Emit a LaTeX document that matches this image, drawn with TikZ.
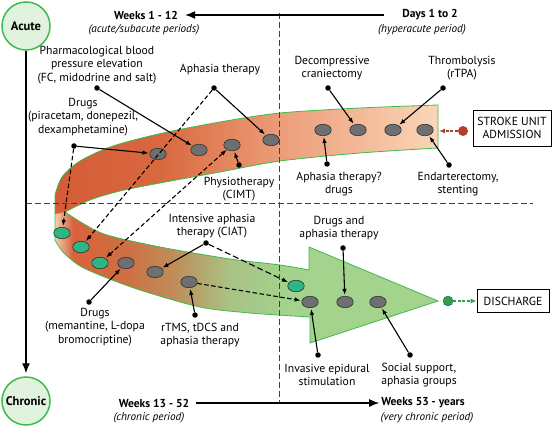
\documentclass[tikz,border=0pt]{standalone}
\usepackage{fontspec}
\setmainfont{PT Sans}
\usetikzlibrary{shapes.geometric,arrows.meta}

\definecolor{ubA}{HTML}{D45C37}
\definecolor{ubB}{HTML}{D9683F}
\definecolor{ubC}{HTML}{EC9D79}
\definecolor{ubD}{HTML}{FAD6B8}
\definecolor{lbA}{HTML}{F7CDAE}
\definecolor{lbB}{HTML}{D8623B}
\definecolor{lbC}{HTML}{CF6E42}
\definecolor{lbD}{HTML}{BF8E5A}
\definecolor{lbE}{HTML}{A9C285}
\definecolor{lbF}{HTML}{A3D38D}
\definecolor{arrowgreen}{HTML}{A3D38D}
\definecolor{rimgreen}{HTML}{3DBB4E}
\definecolor{spotgray}{HTML}{6E6F71}
\definecolor{spotteal}{HTML}{2DB683}
\definecolor{phasefill}{HTML}{E1F3DF}
\definecolor{admitred}{HTML}{B3402C}
\definecolor{dischgreen}{HTML}{2F9E4F}

\pgfdeclarehorizontalshading{upperband}{100bp}{color(0bp)=(ubA); color(25bp)=(ubA); color(38.7bp)=(ubB); color(54.4bp)=(ubC); color(75bp)=(ubD); color(100bp)=(ubD)}
\pgfdeclarehorizontalshading{lowerband}{100bp}{color(0bp)=(lbA); color(25bp)=(lbA); color(28.5bp)=(lbB); color(38.5bp)=(lbC); color(48.5bp)=(lbD); color(59bp)=(lbE); color(70bp)=(lbF); color(100bp)=(lbF)}

\tikzset{
  txtlbl/.style={font=\fontsize{11.7}{13.6}\selectfont, align=center, inner sep=0pt},
  period/.style={font=\bfseries\fontsize{11.5}{13}\selectfont, inner sep=0pt},
  subperiod/.style={font=\itshape\fontsize{11.2}{13}\selectfont, inner sep=0pt},
  gspot/.style={ellipse, draw=black!80, line width=0.6pt, fill=spotgray, minimum width=16.5pt, minimum height=11.5pt, inner sep=0pt},
  tspot/.style={gspot, fill=spotteal},
  blackdot/.style={circle, fill=black, inner sep=0pt, minimum size=5.5pt},
  solidarr/.style={-{Latex[length=6pt,width=4.5pt]}, line width=1.1pt, shorten >=1pt},
  dasharr/.style={solidarr, dash pattern=on 4.5pt off 2.5pt},
  timearr/.style={-{Latex[length=10pt,width=8pt]}, line width=1.3pt},
  guide/.style={dash pattern=on 6pt off 3pt, line width=0.8pt, black!75},
  phase/.style={circle, draw=rimgreen, line width=1.5pt, fill=phasefill, minimum size=48pt, inner sep=0pt, font=\bfseries\fontsize{12.5}{13}\selectfont},
  boxlbl/.style={draw, line width=0.8pt, align=center, inner sep=0pt, font=\fontsize{11.7}{13.6}\selectfont}
}

\begin{document}
\begin{tikzpicture}[x=1pt,y=-1pt]
  \useasboundingbox (0,0) rectangle (553,427);

  % ribbon
  \fill[arrowgreen] (300,270) -- (309,270) -- (309,247) -- (438,301) -- (310,343) -- (310,317) -- (300,317) -- cycle;
  \shade[shading=lowerband] (55,200) -- (55,240)
    -- plot[smooth] coordinates {(55,240) (63,252) (80,266) (107,278) (143,291) (200,307) (250,313) (311,317)}
    -- (311,270)
    -- plot[smooth] coordinates {(311,270) (280,265) (230,259) (160,247) (107,235) (84,224) (65,212)} -- cycle;
  \shade[shading=upperband]
    plot[smooth] coordinates {(438,105) (360,108) (280,113) (220,122) (163,133) (113,146) (80,161) (62,177) (55,195)}
    -- (55,214)
    -- plot[smooth] coordinates {(65,212) (90,200) (120,191) (160,183) (220,172) (280,161) (360,153) (438,148)} -- cycle;
  \draw[rimgreen, line width=0.8pt] (438,148)
    -- plot[smooth] coordinates {(438,105) (360,108) (280,113) (220,122) (163,133) (113,146) (80,161) (62,177) (55,195)}
    -- (55,240)
    -- plot[smooth] coordinates {(55,240) (63,252) (80,266) (107,278) (143,291) (200,307) (250,313) (310,317)}
    -- (310,343) -- (438,301) -- (309,247) -- (309,270)
    -- plot[smooth] coordinates {(309,270) (280,265) (230,259) (160,247) (107,235) (84,224) (65,212)}
    -- plot[smooth] coordinates {(65,212) (90,200) (120,191) (160,183) (220,172) (280,161) (360,153) (438,148)};

  % time axes
  \draw[guide] (279,13) -- (279,403);
  \draw[guide] (26,203) -- (533,203);

  \node[phase] (acute) at (26,26) {Acute};
  \node[phase] (chronic) at (26,401) {Chronic};
  \draw[timearr, shorten >=3pt] (acute) -- (chronic);

  \node[period] (wk1) at (146,15) {Weeks 1 - 12};
  \node[subperiod] at (144,30) {(acute/subacute periods)};
  \node[period] (day1) at (430,15) {Days 1 to 2};
  \node[subperiod] at (422,30) {(hyperacute period)};
  \draw[timearr, shorten <=18pt, shorten >=7pt] (day1.west) -- (wk1.east);

  \node[period] (wk13) at (154,403) {Weeks 13 - 52};
  \node[subperiod] at (149,418) {(chronic period)};
  \node[period] (wk53) at (423,403) {Weeks 53 - years};
  \node[subperiod] at (427,418) {(very chronic period)};
  \draw[timearr, shorten <=7pt, shorten >=2pt] (wk13.east) -- (wk53.west);

  % spots on the ribbon
  \node[gspot] (u1) at (158,154) {};
  \node[gspot] (u2) at (199,150) {};
  \node[gspot] (u3) at (232,145) {};
  \node[gspot] (u4) at (271,140) {};
  \node[gspot] (u5) at (323,130) {};
  \node[gspot] (u6) at (358,130) {};
  \node[gspot] (u7) at (393,130) {};
  \node[gspot] (u8) at (425,130) {};
  \node[tspot] (t1) at (62,233) {};
  \node[tspot] (t2) at (81,247) {};
  \node[tspot] (t3) at (100,263) {};
  \node[gspot] (l1) at (126,263) {};
  \node[gspot] (l2) at (155,272) {};
  \node[gspot] (l3) at (189,282) {};
  \node[tspot] (t4) at (296,286) {};
  \node[gspot] (l4) at (310,302) {};
  \node[gspot] (l5) at (345,302) {};
  \node[gspot] (l6) at (378,302) {};

  % labels
  \node[txtlbl] at (97,65) {Pharmacological blood\\pressure elevation\\(FC, midodrine and salt)};
  \node[blackdot] (dpharm) at (97,88) {};
  \node[txtlbl] at (220,70) {Aphasia therapy};
  \node[blackdot] (daph) at (214,88) {};
  \node[txtlbl] at (83,117) {Drugs\\(piracetam, donepezil,\\dexamphetamine)};
  \node[blackdot] (ddrugA) at (74,146) {};
  \node[txtlbl] at (239,189) {Physiotherapy\\(CIMT)};
  \node[blackdot] (dcimt) at (239,165) {};
  \node[txtlbl] at (332,68) {Decompressive\\craniectomy};
  \node[blackdot] (ddecomp) at (328,88) {};
  \node[txtlbl] at (462,68) {Thrombolysis\\(rTPA)};
  \node[blackdot] (dthromb) at (443,88) {};
  \node[txtlbl] at (339,184) {Aphasia therapy?\\drugs};
  \node[blackdot] (daphq) at (327,164) {};
  \node[txtlbl] at (458,184) {Endarterectomy,\\stenting};
  \node[blackdot] (dendart) at (449,165) {};
  \node[txtlbl] at (212,226) {Intensive aphasia\\therapy (CIAT)};
  \node[blackdot] (dciat) at (206,243) {};
  \node[txtlbl] at (95,327) {Drugs\\(memantine, L-dopa\\bromocriptine)};
  \node[blackdot] (ddrugB) at (89,302) {};
  \node[txtlbl] at (200,335) {rTMS, tDCS and\\aphasia therapy};
  \node[blackdot] (drtms) at (195,315) {};
  \node[txtlbl] at (339,228) {Drugs and\\aphasia therapy};
  \node[blackdot] (ddrugaph) at (343,248) {};
  \node[txtlbl] at (327,375) {Invasive epidural\\stimulation};
  \node[blackdot] (dinv) at (318,355) {};
  \node[txtlbl] at (419,375) {Social support,\\aphasia groups};
  \node[blackdot] (dsocial) at (410,355) {};

  \draw[solidarr] (dpharm) -- (u2);
  \draw[solidarr] (daph) -- (u4);
  \draw[dasharr] (daph) -- (t2);
  \draw[solidarr] (ddrugA) -- (u1);
  \draw[dasharr] (ddrugA) -- (t1);
  \draw[solidarr] (dcimt) -- (u3);
  \draw[dasharr, {Latex[length=6pt,width=4.5pt]}-{Latex[length=6pt,width=4.5pt]}] (u3) -- (t3);
  \draw[solidarr] (ddecomp) -- (u6);
  \draw[solidarr] (dthromb) -- (u7);
  \draw[solidarr] (daphq) -- (u5);
  \draw[solidarr] (dendart) -- (u8);
  \draw[solidarr] (dciat) -- (l2);
  \draw[dasharr, dash pattern=on 6pt off 3pt] (dciat) -- (t4);
  \draw[solidarr] (ddrugB) -- (l1);
  \draw[solidarr] (drtms) -- (l3);
  \draw[dasharr] (l3) -- (l4);
  \draw[solidarr] (ddrugaph) -- (l5);
  \draw[solidarr] (dinv) -- (l4);
  \draw[solidarr] (dsocial) -- (l6);

  % admission and discharge
  \node[boxlbl, minimum width=78pt, minimum height=36pt] (admit) at (512,128) {STROKE UNIT\\ADMISSION};
  \node[circle, fill=admitred, inner sep=0pt, minimum size=10pt] (admdot) at (463,131) {};
  \coordinate (admend) at (439,131);
  \draw[admitred, -{Latex[length=6pt,width=5pt]}, line width=1.1pt, dash pattern=on 3pt off 1.5pt] (admdot) -- (admend);
  \node[boxlbl, minimum width=72pt, minimum height=23pt] (disch) at (513,301) {DISCHARGE};
  \node[circle, draw=dischgreen!70!black, fill=dischgreen, inner sep=0pt, minimum size=10pt] (disdot) at (448,301) {};
  \draw[dischgreen, -{Latex[length=6pt,width=5pt]}, line width=1.1pt, dash pattern=on 3pt off 1.5pt] (disdot) -- (disch);
\end{tikzpicture}
\end{document}
